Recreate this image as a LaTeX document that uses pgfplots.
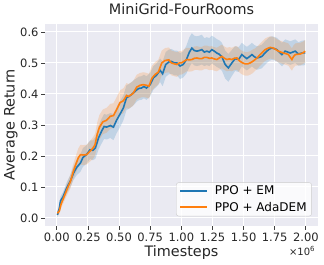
\documentclass[border=0pt]{standalone}
\usepackage{fontspec}
\setmainfont{DejaVu Sans}
\usepackage{pgfplots}
\usepackage{pgfplotstable}
\pgfplotsset{compat=1.18}
\usepgfplotslibrary{fillbetween}
\definecolor{bgc}{HTML}{EAEAF2}
\definecolor{c1}{HTML}{1F77B4}
\definecolor{c2}{HTML}{FF7F0E}

\pgfplotstableread{
x y e
0.005 0.010 0.008
0.02 0.030 0.012
0.03 0.055 0.015
0.05 0.068 0.015
0.08 0.097 0.018
0.11 0.120 0.020
0.135 0.145 0.022
0.16 0.163 0.025
0.19 0.177 0.028
0.21 0.195 0.030
0.24 0.205 0.030
0.267 0.220 0.030
0.29 0.218 0.032
0.31 0.226 0.035
0.335 0.258 0.038
0.36 0.280 0.040
0.38 0.295 0.040
0.40 0.293 0.040
0.43 0.298 0.040
0.455 0.293 0.042
0.48 0.315 0.042
0.508 0.335 0.042
0.535 0.355 0.040
0.56 0.388 0.040
0.58 0.392 0.040
0.60 0.398 0.040
0.62 0.405 0.040
0.642 0.413 0.038
0.66 0.418 0.038
0.68 0.419 0.038
0.70 0.424 0.038
0.72 0.419 0.038
0.75 0.430 0.038
0.776 0.452 0.038
0.80 0.460 0.038
0.83 0.476 0.038
0.85 0.465 0.040
0.875 0.495 0.040
0.90 0.503 0.040
0.92 0.505 0.040
0.945 0.500 0.040
0.965 0.500 0.040
0.99 0.490 0.042
1.015 0.495 0.042
1.04 0.510 0.045
1.065 0.535 0.048
1.085 0.548 0.048
1.105 0.540 0.048
1.125 0.538 0.048
1.145 0.540 0.048
1.165 0.543 0.048
1.185 0.535 0.045
1.205 0.538 0.045
1.225 0.535 0.045
1.245 0.543 0.045
1.265 0.538 0.045
1.285 0.532 0.045
1.305 0.528 0.045
1.326 0.520 0.045
1.352 0.495 0.045
1.378 0.484 0.045
1.406 0.500 0.042
1.432 0.514 0.040
1.46 0.511 0.040
1.486 0.527 0.038
1.506 0.520 0.038
1.526 0.514 0.038
1.547 0.520 0.038
1.567 0.527 0.038
1.587 0.520 0.038
1.607 0.516 0.038
1.627 0.518 0.038
1.647 0.521 0.038
1.667 0.530 0.038
1.687 0.538 0.038
1.707 0.545 0.038
1.727 0.548 0.038
1.748 0.546 0.038
1.768 0.543 0.038
1.788 0.535 0.038
1.808 0.527 0.038
1.834 0.538 0.038
1.855 0.535 0.038
1.875 0.532 0.038
1.895 0.535 0.038
1.915 0.538 0.038
1.94 0.529 0.038
1.97 0.532 0.040
1.995 0.533 0.040
}\emdata

\pgfplotstableread{
x y e
0.005 0.015 0.008
0.02 0.022 0.010
0.035 0.045 0.013
0.06 0.070 0.016
0.09 0.100 0.020
0.11 0.118 0.022
0.133 0.150 0.025
0.155 0.175 0.028
0.173 0.194 0.030
0.19 0.204 0.032
0.21 0.203 0.032
0.24 0.204 0.032
0.267 0.215 0.033
0.29 0.225 0.035
0.307 0.236 0.035
0.325 0.270 0.038
0.342 0.292 0.040
0.37 0.310 0.040
0.40 0.315 0.040
0.43 0.328 0.040
0.455 0.330 0.040
0.48 0.349 0.040
0.508 0.372 0.040
0.535 0.378 0.040
0.56 0.395 0.040
0.575 0.392 0.040
0.60 0.398 0.040
0.615 0.403 0.040
0.642 0.422 0.040
0.67 0.428 0.040
0.695 0.430 0.040
0.72 0.428 0.040
0.74 0.425 0.040
0.763 0.450 0.040
0.79 0.463 0.040
0.815 0.470 0.040
0.843 0.500 0.040
0.87 0.508 0.040
0.90 0.510 0.040
0.92 0.500 0.040
0.945 0.497 0.040
0.964 0.495 0.040
0.985 0.500 0.038
1.0 0.500 0.038
1.02 0.505 0.038
1.044 0.511 0.038
1.065 0.510 0.038
1.085 0.511 0.038
1.105 0.515 0.038
1.125 0.516 0.038
1.145 0.514 0.038
1.165 0.514 0.038
1.185 0.518 0.038
1.205 0.518 0.038
1.225 0.515 0.038
1.245 0.516 0.038
1.265 0.513 0.038
1.285 0.511 0.038
1.305 0.516 0.038
1.326 0.521 0.038
1.346 0.515 0.038
1.366 0.511 0.038
1.386 0.513 0.038
1.406 0.511 0.038
1.426 0.515 0.038
1.446 0.516 0.038
1.473 0.505 0.038
1.493 0.500 0.038
1.513 0.497 0.038
1.533 0.497 0.038
1.553 0.500 0.038
1.573 0.505 0.038
1.593 0.511 0.036
1.613 0.518 0.036
1.633 0.527 0.036
1.653 0.535 0.036
1.674 0.543 0.036
1.694 0.547 0.036
1.714 0.550 0.036
1.74 0.548 0.036
1.76 0.543 0.036
1.78 0.538 0.036
1.80 0.535 0.036
1.82 0.532 0.036
1.84 0.530 0.036
1.86 0.527 0.036
1.875 0.518 0.036
1.888 0.511 0.036
1.90 0.520 0.036
1.915 0.527 0.036
1.935 0.528 0.036
1.955 0.529 0.036
1.975 0.532 0.036
1.995 0.538 0.036
}\adadata

\begin{document}
\begin{tikzpicture}
\path (0,0) rectangle (324pt,260pt);
\begin{axis}[
  name=ax,
  at={(44.7pt,38.3pt)}, anchor=south west,
  scale only axis, width=273.6pt, height=202.7pt,
  xmin=-0.097, xmax=2.1, ymin=-0.027, ymax=0.627,
  axis background/.style={fill=bgc},
  axis line style={draw=none},
  grid=major, major grid style={white, line width=0.9pt},
  xtick={0,0.25,0.5,0.75,1,1.25,1.5,1.75,2},
  ytick={0,0.1,0.2,0.3,0.4,0.5,0.6},
  scaled ticks=false,
  tick align=outside, major tick length=3.5pt,
  tick style={color=black!75, line width=0.8pt},
  xtick pos=bottom, ytick pos=left,
  /pgf/number format/assume math mode=true,
  ticklabel style={font=\fontsize{11.5}{13}\selectfont, color=black!85},
  yticklabel style={inner xsep=2.5pt},
  xticklabel style={inner ysep=3pt},
  xticklabel={\pgfmathprintnumber[fixed,fixed zerofill,precision=2]{\tick}},
  yticklabel={\pgfmathprintnumber[fixed,fixed zerofill,precision=1]{\tick}},
  title={MiniGrid-FourRooms},
  title style={at={(axis description cs:0.5,1.0163)}, anchor=base, font=\fontsize{14.4}{16}\selectfont, color=black!85},
  xlabel={Timesteps},
  xlabel style={at={(axis description cs:0.5,-0.148)}, anchor=base, font=\fontsize{14.4}{16}\selectfont, color=black!85},
  ylabel={Average Return},
  ylabel style={at={(axis description cs:-0.11,0.5)}, anchor=base, font=\fontsize{14.4}{16}\selectfont, color=black!85},
  legend style={at={(axis description cs:1,0)}, anchor=south east, xshift=-6.5pt, yshift=10pt,
    fill=white, fill opacity=0.8, text opacity=1, draw=black!20, rounded corners=2.5pt,
    font=\fontsize{12}{14}\selectfont, inner xsep=3pt, inner ysep=1.5pt, row sep=1.5pt, column sep=5pt},
  legend cell align=left,
  legend image code/.code={\draw[#1, line width=1.6pt] (0pt,0pt) -- (27pt,0pt);},
]
\addplot[draw=none, name path=bu, forget plot] table[x=x, y expr=\thisrow{y}+\thisrow{e}] {\emdata};
\addplot[draw=none, name path=bl, forget plot] table[x=x, y expr=\thisrow{y}-\thisrow{e}] {\emdata};
\addplot[fill=c1, fill opacity=0.2, draw=none, forget plot] fill between[of=bu and bl];
\addplot[c1, line width=1.6pt] table[x=x, y=y] {\emdata};
\addlegendentry{PPO + EM}
\addplot[draw=none, name path=ou, forget plot] table[x=x, y expr=\thisrow{y}+\thisrow{e}] {\adadata};
\addplot[draw=none, name path=ol, forget plot] table[x=x, y expr=\thisrow{y}-\thisrow{e}] {\adadata};
\addplot[fill=c2, fill opacity=0.2, draw=none, forget plot] fill between[of=ou and ol];
\addplot[c2, line width=1.6pt] table[x=x, y=y] {\adadata};
\addlegendentry{PPO + AdaDEM}
\end{axis}
\node[anchor=east, font=\fontsize{10}{12}\selectfont, color=black!85, inner sep=0pt] at ([xshift=-3pt,yshift=-25pt]ax.south east) {×10\textsuperscript{6}};
\end{tikzpicture}
\end{document}
